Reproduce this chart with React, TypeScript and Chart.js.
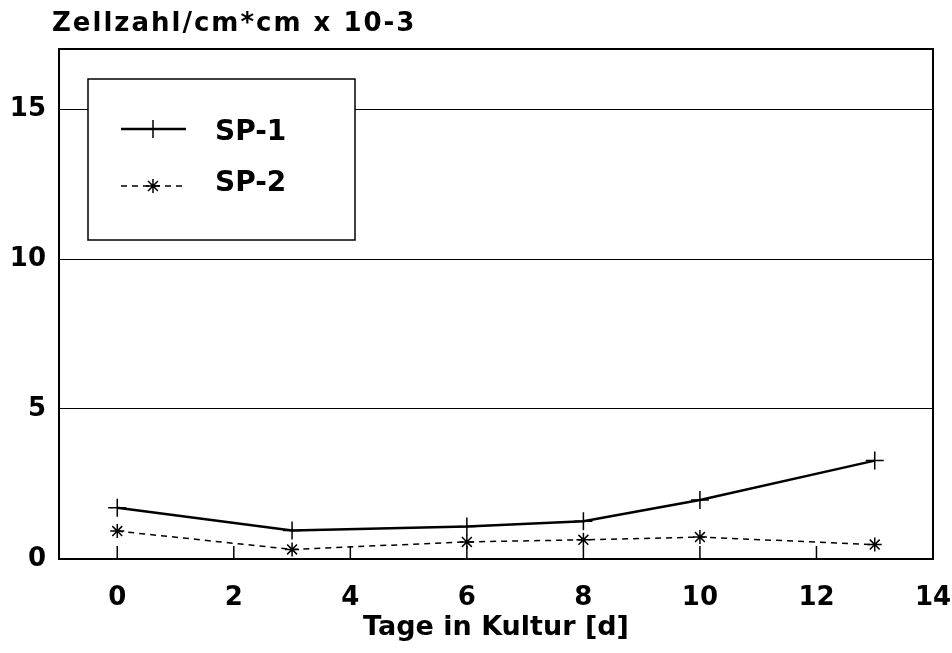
import React, { useEffect, useRef } from "react";
import { Chart, registerables } from "chart.js";
import { drawPoint } from "chart.js/helpers";

Chart.register(...registerables);

const chartTitle = "Zellzahl/cm*cm x 10-3";
const xAxisTitle = "Tage in Kultur [d]";
const days = [0, 3, 6, 8, 10, 13];
const sp1Values = [1.71, 0.95, 1.08, 1.26, 1.97, 3.28];
const sp2Values = [0.93, 0.32, 0.57, 0.64, 0.73, 0.48];
const seriesLabels = ["SP-1", "SP-2"];
const xTickValues = [0, 2, 4, 6, 8, 10, 12, 14];
const yTickValues = [0, 5, 10, 15];

const FONT = "'DejaVu Sans', sans-serif";

const framePlugin = {
  id: "frameAndExtras",
  afterDraw(chart: any) {
    const { ctx, chartArea } = chart;
    const xs = chart.scales.x;
    ctx.save();
    // inward x ticks
    ctx.strokeStyle = "#000";
    ctx.lineWidth = 1.5;
    xs.ticks.forEach((t: any) => {
      const px = xs.getPixelForValue(t.value);
      ctx.beginPath();
      ctx.moveTo(px, chartArea.bottom);
      ctx.lineTo(px, chartArea.bottom - 13);
      ctx.stroke();
    });
    // frame
    ctx.lineWidth = 2;
    ctx.strokeRect(chartArea.left, chartArea.top, chartArea.right - chartArea.left, chartArea.bottom - chartArea.top);

    // title
    ctx.fillStyle = "#000";
    ctx.font = `bold 26px ${FONT}`;
    ctx.textAlign = "left";
    ctx.textBaseline = "alphabetic";
    (ctx as any).letterSpacing = "2px";
    ctx.fillText(chartTitle, 52, 31);
    (ctx as any).letterSpacing = "0px";

    // legend box
    const bx = chartArea.left + 29;
    const by = chartArea.top + 30;
    const bw = 267;
    const bh = 161;
    ctx.fillStyle = "#fff";
    ctx.fillRect(bx, by, bw, bh);
    ctx.strokeStyle = "#000";
    ctx.lineWidth = 1.5;
    ctx.strokeRect(bx, by, bw, bh);
    const rowY = [by + 50, by + 107];
    chart.data.datasets.forEach((ds: any, i: number) => {
      const y = rowY[i];
      ctx.save();
      ctx.strokeStyle = ds.borderColor;
      ctx.lineWidth = ds.borderWidth;
      ctx.setLineDash(ds.borderDash || []);
      ctx.beginPath();
      ctx.moveTo(bx + 33, y);
      ctx.lineTo(bx + 98, y);
      ctx.stroke();
      ctx.setLineDash([]);
      ctx.lineWidth = ds.pointBorderWidth;
      ctx.strokeStyle = ds.pointBorderColor;
      drawPoint(ctx, { pointStyle: ds.pointStyle, radius: ds.pointRadius, borderWidth: ds.pointBorderWidth, rotation: 0 } as any, bx + 65, y);
      ctx.restore();
      ctx.fillStyle = "#000";
      ctx.font = `bold 28px ${FONT}`;
      ctx.textBaseline = "middle";
      ctx.textAlign = "left";
      ctx.fillText(ds.label, bx + 127, y + (i === 0 ? 4 : -2));
    });
    ctx.restore();
  },
};

export default function App() {
  const ref = useRef<HTMLCanvasElement>(null);
  useEffect(() => {
    if (!ref.current) return;
    const chart = new Chart(ref.current, {
      type: "line",
      data: {
        datasets: [
          {
            label: seriesLabels[0],
            data: days.map((d, i) => ({ x: d, y: sp1Values[i] })),
            borderColor: "#000",
            borderWidth: 2.5,
            pointStyle: "cross",
            pointRadius: 9,
            pointBorderWidth: 1.5,
            pointBorderColor: "#000",
            pointBackgroundColor: "#000",
            tension: 0,
            fill: false,
            clip: false as any,
          },
          {
            label: seriesLabels[1],
            data: days.map((d, i) => ({ x: d, y: sp2Values[i] })),
            borderColor: "#000",
            borderWidth: 1.5,
            borderDash: [6, 5],
            pointStyle: "star",
            pointRadius: 7,
            pointBorderWidth: 1.5,
            pointBorderColor: "#000",
            pointBackgroundColor: "#000",
            tension: 0,
            fill: false,
            clip: false as any,
          },
        ],
      },
      options: {
        responsive: false,
        animation: false,
        layout: { padding: { top: 49, right: 0, left: 0, bottom: 0 } },
        plugins: { legend: { display: false }, tooltip: { enabled: false }, title: { display: false } },
        scales: {
          x: {
            type: "linear",
            min: -1,
            max: 14,
            afterBuildTicks: (s: any) => {
              s.ticks = xTickValues.map((v) => ({ value: v }));
            },
            afterFit: (s: any) => {
              s.height = 94;
              s.paddingRight = 19;
            },
            grid: { display: false, drawTicks: false },
            border: { display: false },
            ticks: { color: "#000", font: { family: FONT, size: 26, weight: "bold" }, padding: 24, maxRotation: 0 },
            title: {
              display: true,
              text: xAxisTitle,
              color: "#000",
              font: { family: FONT, size: 27, weight: "bold" },
              padding: { top: 0, bottom: 9 },
            },
          },
          y: {
            type: "linear",
            min: 0,
            max: 17,
            afterBuildTicks: (s: any) => {
              s.ticks = yTickValues.map((v) => ({ value: v }));
            },
            afterFit: (s: any) => {
              s.width = 59;
            },
            grid: {
              drawTicks: false,
              color: (c: any) => (c.tick && c.tick.value === 0 ? "rgba(0,0,0,0)" : "#000"),
              lineWidth: 1,
            },
            border: { display: false },
            ticks: { color: "#000", font: { family: FONT, size: 26, weight: "bold" }, padding: 13 },
          },
        },
      },
      plugins: [framePlugin],
    });
    return () => chart.destroy();
  }, []);
  return (
    <div style={{ position: "absolute", left: 0, top: 0, width: 952, height: 653, background: "#fff" }}>
      <canvas ref={ref} width={952} height={653} />
    </div>
  );
}
